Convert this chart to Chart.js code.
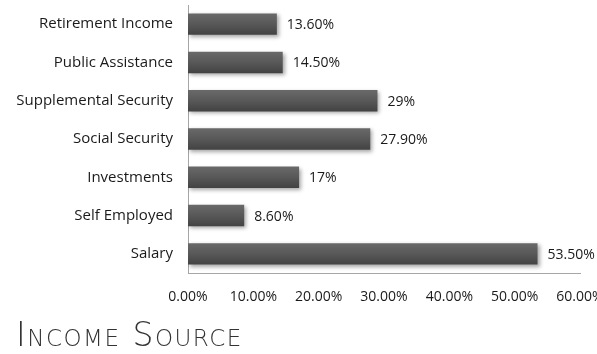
<!DOCTYPE html>
<html>
<head>
<meta charset="utf-8">
<script src="https://cdn.jsdelivr.net/npm/chart.js@4/dist/chart.umd.min.js"></script>
<style>
  html, body { margin: 0; padding: 0; background: #fff; overflow: hidden; }
  #wrap { width: 597px; height: 354px; position: relative; }
</style>
</head>
<body>
<div id="wrap"><canvas id="myChart"></canvas></div>
<script>
var categories = ['Retirement Income', 'Public Assistance', 'Supplemental Security', 'Social Security', 'Investments', 'Self Employed', 'Salary']
var values = [13.6, 14.5, 29, 27.9, 17, 8.6, 53.5]
var valueLabels = ['13.60%', '14.50%', '29%', '27.90%', '17%', '8.60%', '53.50%']
var xTicks = [0, 10, 20, 30, 40, 50, 60]
var chartTitle = 'Income Source'

var textFont = "'Open Sans', 'Noto Sans', sans-serif"

// soft drop shadow under the bars
var barShadow = {
  id: 'barShadow',
  beforeDatasetsDraw: function(chart) {
    var c = chart.ctx
    c.save()
    c.shadowColor = 'rgba(0,0,0,0.35)'
    c.shadowBlur = 4
    c.shadowOffsetX = 2
    c.shadowOffsetY = 2
  },
  afterDatasetsDraw: function(chart) {
    chart.ctx.restore()
  }
}

// value text after each bar end
var barValues = {
  id: 'barValues',
  afterDatasetsDraw: function(chart) {
    var c = chart.ctx
    var meta = chart.getDatasetMeta(0)
    c.save()
    c.font = "14px " + textFont
    c.fillStyle = '#1a1a1a'
    c.textAlign = 'left'
    c.textBaseline = 'middle'
    meta.data.forEach(function(bar, i) {
      c.fillText(valueLabels[i], bar.x + 10, bar.y + 1)
    })
    c.restore()
  }
}

// small-caps title under the axis (Chart.js title can't do small caps / spacing)
var capsTitle = {
  id: 'capsTitle',
  afterDraw: function(chart) {
    var c = chart.ctx
    c.save()
    c.font = "small-caps 200 33px 'DejaVu Sans', sans-serif"
    if ('letterSpacing' in c) c.letterSpacing = '1.5px'
    c.fillStyle = '#333333'
    c.textAlign = 'left'
    c.textBaseline = 'alphabetic'
    c.fillText(chartTitle, 16, 346)
    c.restore()
  }
}

var ctx = document.getElementById('myChart').getContext('2d')
var myChart = new Chart(ctx, {
  type: 'bar',
  data: {
    labels: categories,
    datasets: [{
      data: values,
      backgroundColor: function(context) {
        var ys = context.chart.scales.y
        if (!ys || ys.top === undefined || context.dataIndex === undefined) return '#575757'
        var y = ys.getPixelForValue(context.dataIndex)
        var g = context.chart.ctx.createLinearGradient(0, y - 11, 0, y + 11)
        g.addColorStop(0, '#6a6a6a')
        g.addColorStop(0.5, '#585858')
        g.addColorStop(1, '#424242')
        return g
      },
      borderWidth: 0,
      barPercentage: 0.56,
      categoryPercentage: 1
    }]
  },
  options: {
    indexAxis: 'y',
    responsive: true,
    maintainAspectRatio: false,
    animation: false,
    layout: { padding: { left: 16, top: 5, right: 17, bottom: 39 } },
    plugins: {
      legend: { display: false },
      tooltip: { enabled: false },
      title: { display: false }
    },
    scales: {
      x: {
        min: 0,
        max: 60,
        afterBuildTicks: function(scale) {
          scale.ticks = xTicks.map(function(v) { return { value: v } })
        },
        afterFit: function(scale) {
          scale.height = 42
          scale.paddingRight = 0
          scale.paddingLeft = 0
        },
        grid: { display: false, drawTicks: false },
        border: { display: true, color: '#a6a6a6', width: 1 },
        ticks: {
          padding: 16,
          color: '#1a1a1a',
          font: { family: textFont, size: 14 },
          maxRotation: 0,
          autoSkip: false,
          callback: function(v) { return v.toFixed(2) + '%' }
        }
      },
      y: {
        afterFit: function(scale) {
          scale.width = 172
          scale.paddingTop = 0
          scale.paddingBottom = 0
        },
        grid: { display: false, drawTicks: false },
        border: { display: true, color: '#a6a6a6', width: 1 },
        ticks: {
          padding: 15,
          color: '#1a1a1a',
          font: { family: textFont, size: 15 }
        }
      }
    }
  },
  plugins: [barShadow, barValues, capsTitle]
})
</script>
</body>
</html>
